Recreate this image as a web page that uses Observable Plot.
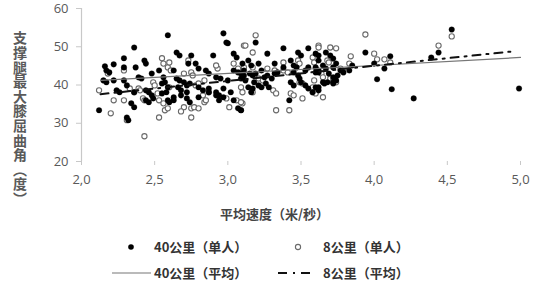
<!DOCTYPE html>
<html><head><meta charset="utf-8">
<script src="https://cdn.jsdelivr.net/npm/d3@7"></script>
<script src="https://cdn.jsdelivr.net/npm/@observablehq/plot@0.6"></script>
<style>
body{margin:0;background:#fff;}
#wrap{position:relative;width:550px;height:284px;overflow:hidden;font-family:"Noto Sans CJK SC","Open Sans",sans-serif;}
#chart{position:absolute;left:0;top:0;}
#ylab{position:absolute;left:13px;top:31px;writing-mode:vertical-rl;font-size:14px;font-weight:bold;color:#5a5a5a;line-height:1;letter-spacing:0.6px;}
#xlab{position:absolute;left:220px;top:204px;font-size:13px;font-weight:bold;color:#444;white-space:nowrap;}
.leg{position:absolute;font-size:13px;font-weight:bold;color:#333;white-space:nowrap;line-height:1;}
.sym{position:absolute;line-height:0;}
.sym svg{display:block;}
</style></head>
<body><div id="wrap"><div id="chart"></div></div>
<script>
// ---- data ----
const xTicks = [2.0, 2.5, 3.0, 3.5, 4.0, 4.5, 5.0];
const xTickLabels = ["2,0", "2,5", "3,0", "3,5", "4,0", "4,5", "5,0"];
const yTicks = [20, 30, 40, 50, 60];
const xTitle = "平均速度（米/秒）";
const yTitle = "支撑腿最大膝屈曲角（度）";
const seriesNames = ["40公里（单人）", "8公里（单人）", "40公里（平均）", "8公里（平均）"];

// 40 km individuals (filled)
const x40 = [2.59,2.36,2.29,2.16,2.22,2.17,2.19,2.29,2.43,2.44,2.37,2.48,2.56,2.53,2.15,2.17,2.22,2.29,2.31,2.39,2.41,2.24,2.26,2.36,2.44,2.46,2.48,2.49,2.44,2.46,2.34,2.36,2.55,2.58,2.59,2.12,2.31,2.32,2.60,2.55,2.57,
 2.97,2.99,3.00,2.65,2.67,2.75,2.90,3.04,3.06,2.63,2.73,2.78,2.80,2.85,2.87,2.92,2.95,3.00,3.04,3.07,3.09,3.11,2.65,2.67,2.70,2.72,2.74,2.66,2.68,2.72,2.80,2.83,2.87,2.87,2.92,2.94,2.97,2.63,2.63,2.68,2.72,2.74,2.97,3.02,3.04,3.07,3.09,2.92,2.94,2.59,2.80,
 3.19,3.27,3.38,3.48,3.50,3.55,3.60,3.10,3.14,3.16,3.21,3.23,3.32,3.11,3.15,3.17,3.19,3.09,3.12,3.25,3.27,3.30,3.32,3.34,3.38,3.43,3.45,3.47,3.45,3.48,3.49,3.50,3.53,3.55,3.60,3.62,3.18,3.21,3.23,3.14,3.17,3.26,3.28,3.43,3.45,3.53,3.55,3.58,3.62,3.16,3.42,3.09,
 3.67,3.62,3.62,3.70,3.72,3.74,3.72,3.65,3.67,3.60,3.62,3.77,3.79,3.83,3.85,3.69,3.72,3.74,3.75,3.65,3.66,3.68,3.60,3.62,3.72,3.72,
 3.94,4.02,4.12,4.53,4.44,4.39,4.27,4.99,4.00,4.07,4.11];
const y40 = [53.0,49.8,47.0,44.9,45.4,43.8,43.3,44.6,46.4,45.6,44.6,43.0,42.0,43.8,41.2,40.7,41.2,41.2,39.9,42.0,41.7,38.6,38.1,38.1,38.6,38.1,37.3,36.5,36.0,35.5,35.2,34.2,37.8,38.1,39.4,33.4,31.5,30.8,35.5,40.4,40.7,
 53.5,51.1,50.9,48.5,47.7,47.7,47.7,48.2,47.2,43.8,45.6,45.6,44.3,43.8,43.0,42.0,41.7,41.2,43.8,43.3,43.0,42.5,41.7,41.2,40.7,39.9,40.4,39.4,38.6,38.1,39.4,38.6,39.1,38.1,38.1,37.3,36.8,36.8,36.0,37.3,36.5,35.5,39.1,38.1,36.0,33.9,33.4,37.3,36.0,36.0,36.8,
 51.1,48.2,49.6,48.5,47.7,49.6,48.2,45.6,46.4,45.1,45.6,43.8,45.6,43.8,43.0,42.5,43.0,41.7,41.2,42.0,42.5,41.7,43.0,43.3,44.6,46.4,45.1,44.6,43.3,42.5,41.7,40.7,43.8,44.6,44.6,43.3,40.7,39.9,39.4,39.4,39.1,40.4,39.4,40.7,39.9,39.9,39.1,38.1,39.4,38.1,36.0,33.4,
 48.5,47.7,46.4,47.7,46.9,45.6,44.6,45.1,44.3,43.3,43.8,43.8,43.3,43.8,45.1,43.0,42.0,41.2,42.5,40.7,40.4,40.7,39.4,38.6,40.7,40.4,
 48.5,41.5,38.9,54.5,48.5,47.2,36.5,39.1,45.6,44.3,47.5];

// 8 km individuals (open)
const x8 = [2.18,2.29,2.55,2.56,2.59,2.12,2.22,2.29,2.36,2.39,2.40,2.33,2.42,2.43,2.49,2.50,2.52,2.53,2.56,2.57,2.53,2.20,2.31,2.43,2.59,
 3.11,2.60,2.61,2.73,2.75,2.76,2.70,2.84,2.93,2.92,3.04,3.07,2.60,2.83,2.87,2.78,2.80,2.70,2.75,2.77,2.80,2.75,2.68,2.84,2.85,2.99,3.01,3.06,3.10,
 3.19,3.12,3.17,3.38,3.27,3.32,3.17,3.11,3.48,3.49,3.58,3.59,3.21,3.24,3.38,3.41,3.49,3.51,3.59,3.58,3.09,3.10,3.31,3.33,3.43,3.45,3.51,3.58,3.60,3.17,3.33,3.42,3.09,
 3.62,3.62,3.70,3.74,3.68,3.69,3.84,3.83,3.64,3.65,3.70,3.72,3.74,3.65,3.77,
 3.94,4.00,4.02,4.07,4.11,4.53,4.44];
const y8 = [43.0,43.8,47.0,45.6,44.6,38.6,36.0,36.0,38.1,39.1,38.6,39.1,36.5,36.0,40.7,39.9,37.8,36.0,35.2,33.4,31.5,32.6,30.8,26.6,33.9,
 50.3,45.9,43.8,46.4,43.3,42.5,43.0,41.2,44.3,45.1,45.6,44.3,39.4,37.3,38.1,39.9,40.4,34.2,33.9,34.2,33.9,31.5,33.1,35.5,36.0,36.5,34.2,36.0,35.2,
 53.0,50.3,48.5,45.9,44.3,43.8,44.6,44.6,46.4,45.6,47.2,45.9,41.7,41.2,43.8,43.3,40.7,40.4,41.2,39.4,39.4,38.1,38.6,37.8,37.8,37.3,36.5,38.1,37.8,38.1,33.4,33.4,35.5,
 50.3,49.8,49.8,49.6,46.4,45.9,47.5,45.6,43.0,42.0,41.7,41.2,40.7,36.8,44.3,
 53.2,48.2,46.7,46.7,45.9,52.7,50.3];

// trend lines (endpoints)
const trend40X = [2.13, 5.0], trend40Y = [41.2, 47.2];
const trend8X = [2.13, 4.95], trend8Y = [37.6, 48.8];

// ---- build tables ----
const pts40 = x40.map((x, i) => ({x, y: y40[i]}));
const pts8 = x8.map((x, i) => ({x, y: y8[i]}));
const line40 = trend40X.map((x, i) => ({x, y: trend40Y[i]}));
const line8 = trend8X.map((x, i) => ({x, y: trend8Y[i]}));

const chart = Plot.plot({
  width: 550, height: 230,
  marginLeft: 81, marginRight: 30, marginTop: 8, marginBottom: 69,
  style: {fontFamily: "'Open Sans', sans-serif", fontSize: "13px", color: "#595959", background: "transparent"},
  x: {domain: [2, 5]},
  y: {domain: [20, 60]},
  marks: [
    Plot.ruleX([2], {y1: 20, y2: 60, stroke: "#c8c8c8", strokeWidth: 1.2}),
    Plot.axisX({ticks: xTicks, tickFormat: (d, i) => xTickLabels[i], tickSize: 4, tickPadding: 9, stroke: "#c8c8c8", label: null}),
    Plot.axisY({ticks: yTicks, tickSize: 5, tickPadding: 8, stroke: "#c8c8c8", label: null}),
    Plot.dot(pts8, {x: "x", y: "y", r: 2.6, fill: "white", stroke: "#6a6a6a", strokeWidth: 1.1}),
    Plot.dot(pts40, {x: "x", y: "y", r: 2.8, fill: "black", stroke: "black", strokeWidth: 0.3}),
    Plot.line(line40, {x: "x", y: "y", stroke: "#777", strokeWidth: 1.2}),
    Plot.line(line8, {x: "x", y: "y", stroke: "#111", strokeWidth: 2, strokeDasharray: "8,6,2,6"})
  ]
});
const wrap = document.getElementById("wrap");
document.getElementById("chart").appendChild(chart);

function addDiv(cls, text, left, top, id) {
  const d = document.createElement("div");
  if (cls) d.className = cls;
  if (id) d.id = id;
  d.textContent = text;
  d.style.left = left + "px"; d.style.top = top + "px";
  wrap.appendChild(d);
  return d;
}
addDiv(null, yTitle, 13, 31, "ylab");
addDiv(null, xTitle, 220, 204, "xlab");

// legend
function sym(svg, left, top, w, h) {
  const s = document.createElement("div");
  s.className = "sym";
  s.style.left = left + "px"; s.style.top = top + "px";
  s.innerHTML = `<svg width="${w}" height="${h}">${svg}</svg>`;
  wrap.appendChild(s);
}
sym('<circle cx="5" cy="5" r="2.8" fill="black"/>', 126, 242, 10, 10);
addDiv("leg", seriesNames[0], 154, 240);
sym('<circle cx="5" cy="5" r="2.6" fill="white" stroke="#6a6a6a" stroke-width="1.1"/>', 293, 242, 10, 10);
addDiv("leg", seriesNames[1], 323, 240);
sym('<line x1="0" y1="3" x2="39" y2="3" stroke="#777" stroke-width="1.2"/>', 112, 270, 40, 6);
addDiv("leg", seriesNames[2], 154, 266);
sym('<line x1="0" y1="3" x2="33" y2="3" stroke="#111" stroke-width="2" stroke-dasharray="9,6,2,6"/>', 278, 270, 34, 6);
addDiv("leg", seriesNames[3], 323, 266);
</script></body></html>
